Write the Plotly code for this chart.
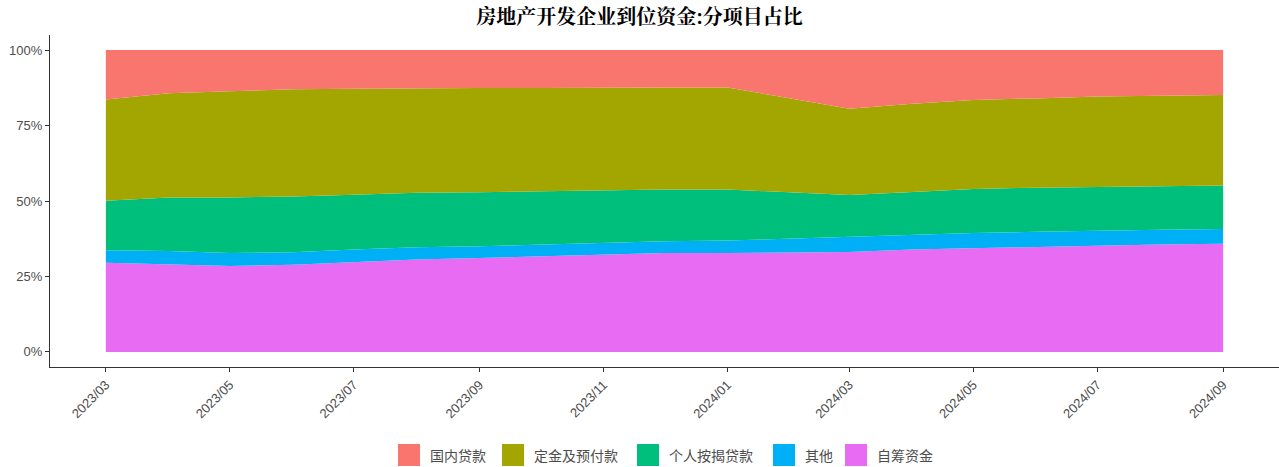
import plotly.graph_objects as go
import pandas as pd

dates = ["2023-03-01", "2023-04-01", "2023-05-01", "2023-06-01", "2023-07-01", "2023-08-01",
         "2023-09-01", "2023-10-01", "2023-11-01", "2023-12-01", "2024-01-01",
         "2024-03-01", "2024-04-01", "2024-05-01", "2024-06-01", "2024-07-01",
         "2024-08-01", "2024-09-01"]

self_raised = [29.5, 29.1, 28.5, 28.9, 29.7, 30.6, 31.1, 31.7, 32.3, 32.8, 32.8,
               33.1, 33.9, 34.4, 34.8, 35.2, 35.6, 35.8]
other = [4.2, 4.3, 4.3, 4.1, 4.2, 4.1, 3.9, 3.9, 3.8, 3.9, 4.1,
         5.0, 5.0, 5.0, 5.0, 5.0, 4.9, 4.9]
mortgage = [16.4, 17.8, 18.4, 18.5, 18.2, 18.0, 17.9, 17.6, 17.4, 17.1, 16.9,
            13.9, 14.1, 14.6, 14.6, 14.4, 14.3, 14.4]
deposits = [33.5, 34.5, 35.2, 35.5, 35.1, 34.7, 34.5, 34.2, 34.1, 33.8, 33.8,
            28.6, 29.2, 29.5, 29.6, 30.0, 30.1, 30.0]
domestic_loans = [16.4, 14.3, 13.6, 13.0, 12.8, 12.6, 12.6, 12.6, 12.4, 12.4, 12.4,
                  19.4, 17.8, 16.5, 16.0, 15.4, 15.1, 14.9]

names = ["自筹资金", "其他", "个人按揭贷款", "定金及预付款", "国内贷款"]
colors = ["#E76BF3", "#00B0F6", "#00BF7D", "#A3A500", "#F8766D"]
series = [self_raised, other, mortgage, deposits, domestic_loans]

y_ticks = [0, 25, 50, 75, 100]
y_labels = [f"{v}%" for v in y_ticks]

W, H = 1279, 467
ML, MR, MT, MB = 50, 0, 35, 100

x = pd.to_datetime(dates)
fig = go.Figure()
for n, c, v in zip(names, colors, series):
    fig.add_trace(go.Scatter(
        x=x, y=v, name=n, mode="lines", stackgroup="one", groupnorm="percent",
        line=dict(width=0, color=c), fillcolor=c, showlegend=False,
        hoverinfo="x+y+name"))

start, end = x.min(), x.max()
span = end - start
xr = [start - 0.05 * span, end + 0.05 * span]

tickvals = pd.date_range("2023-03-01", "2024-09-01", freq="2MS")
ticktext = [d.strftime("%Y/%m") for d in tickvals]

tick_font = dict(family="Liberation Sans, Arial", size=13, color="#4D4D4D")


def px_x(p):
    return (p - ML) / (W - ML - MR)


def px_y(p):
    return (H - MB - p) / (H - MT - MB)


# manual legend (ggplot style, reversed order)
legend_keys_left = [398, 502, 637, 773, 845]
key_size = 22
legend_cy = 455
for (n, c), kx in zip(reversed(list(zip(names, colors))), legend_keys_left):
    fig.add_shape(type="rect", xref="paper", yref="paper",
                  x0=px_x(kx), x1=px_x(kx + key_size),
                  y0=px_y(legend_cy + key_size / 2), y1=px_y(legend_cy - key_size / 2),
                  fillcolor=c, line=dict(width=0))
    fig.add_annotation(xref="paper", yref="paper", x=px_x(kx + key_size + 8), y=px_y(legend_cy),
                       text=n, showarrow=False, xanchor="left", yanchor="middle",
                       font=dict(family="Noto Sans CJK SC", size=14, color="#4D4D4D"))

fig.update_layout(
    width=W, height=H,
    margin=dict(l=ML, r=MR, t=MT, b=MB, autoexpand=False),
    plot_bgcolor="white", paper_bgcolor="white",
    title=dict(text="<b>房地产开发企业到位资金:分项目占比</b>", x=0.5, xanchor="center",
               y=(H - 17) / H, yanchor="middle", yref="container",
               font=dict(family="Noto Serif CJK SC, Noto Sans CJK SC", size=20, color="black")),
    xaxis=dict(range=xr, tickvals=tickvals, ticktext=ticktext, tickangle=-45,
               showgrid=False, zeroline=False, showline=True, linecolor="#333333", linewidth=1.2,
               ticks="outside", ticklen=4, tickcolor="#333333", tickfont=tick_font),
    yaxis=dict(range=[-5, 105], tickvals=y_ticks, ticktext=y_labels,
               showgrid=False, zeroline=False, showline=True, linecolor="#333333", linewidth=1.2,
               ticks="outside", ticklen=4, tickcolor="#333333", tickfont=tick_font),
    showlegend=False,
)

fig.write_html("out.html", post_script="document.body.style.margin='0';",
               config={"displayModeBar": False})
